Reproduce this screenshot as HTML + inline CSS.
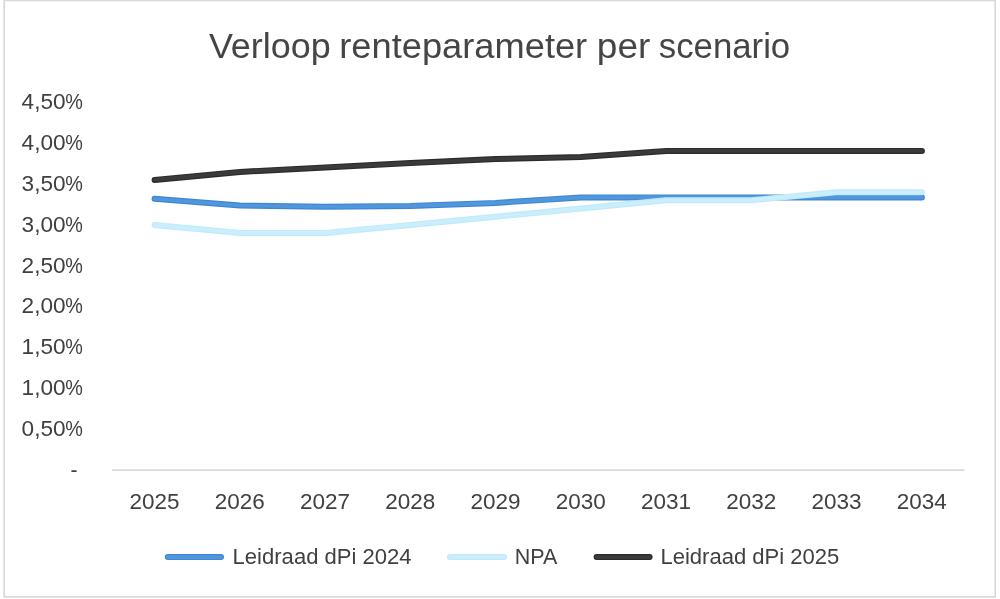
<!DOCTYPE html>
<html lang="nl">
<head>
<meta charset="utf-8">
<title>Verloop renteparameter per scenario</title>
<style>
html,body{margin:0;padding:0;background:#fff;}
body{width:1000px;height:599px;overflow:hidden;position:relative;font-family:"Liberation Sans",sans-serif;}
svg{display:block;position:absolute;left:0;top:0;}
text{font-family:"Liberation Sans",sans-serif;fill:#404040;}
.ax{font-size:22.6px;}
.ttl{font-size:34.8px;fill:#454545;}
.ln{fill:none;stroke-width:6;stroke-linecap:round;stroke-linejoin:round;}
.li{fill:none;stroke-width:3.6;stroke-linecap:round;stroke-linejoin:round;}
</style>
</head>
<body>
<svg width="1000" height="599" viewBox="0 0 1000 599">
<rect x="0" y="0" width="1000" height="599" fill="#ffffff"/>
<rect x="4.2" y="0.4" width="991" height="596.5" fill="#ffffff" stroke="#d9d9d9" stroke-width="1.7" stroke-linejoin="round"/>
<text class="ttl" y="57.5"><tspan x="208.9" textLength="121.8" lengthAdjust="spacingAndGlyphs">Verloop</tspan> <tspan x="339.3" textLength="247.9" lengthAdjust="spacingAndGlyphs">renteparameter</tspan> <tspan x="596.8" textLength="53.5" lengthAdjust="spacingAndGlyphs">per</tspan> <tspan x="658.8" textLength="131.4" lengthAdjust="spacingAndGlyphs">scenario</tspan></text>
<text class="ax" x="21.6" y="109.0"><tspan textLength="44" lengthAdjust="spacingAndGlyphs">4,50</tspan><tspan x="65.2" textLength="17.6" lengthAdjust="spacingAndGlyphs">%</tspan></text>
<text class="ax" x="21.6" y="149.9"><tspan textLength="44" lengthAdjust="spacingAndGlyphs">4,00</tspan><tspan x="65.2" textLength="17.6" lengthAdjust="spacingAndGlyphs">%</tspan></text>
<text class="ax" x="21.6" y="190.8"><tspan textLength="44" lengthAdjust="spacingAndGlyphs">3,50</tspan><tspan x="65.2" textLength="17.6" lengthAdjust="spacingAndGlyphs">%</tspan></text>
<text class="ax" x="21.6" y="231.6"><tspan textLength="44" lengthAdjust="spacingAndGlyphs">3,00</tspan><tspan x="65.2" textLength="17.6" lengthAdjust="spacingAndGlyphs">%</tspan></text>
<text class="ax" x="21.6" y="272.5"><tspan textLength="44" lengthAdjust="spacingAndGlyphs">2,50</tspan><tspan x="65.2" textLength="17.6" lengthAdjust="spacingAndGlyphs">%</tspan></text>
<text class="ax" x="21.6" y="313.4"><tspan textLength="44" lengthAdjust="spacingAndGlyphs">2,00</tspan><tspan x="65.2" textLength="17.6" lengthAdjust="spacingAndGlyphs">%</tspan></text>
<text class="ax" x="21.6" y="354.2"><tspan textLength="44" lengthAdjust="spacingAndGlyphs">1,50</tspan><tspan x="65.2" textLength="17.6" lengthAdjust="spacingAndGlyphs">%</tspan></text>
<text class="ax" x="21.6" y="395.1"><tspan textLength="44" lengthAdjust="spacingAndGlyphs">1,00</tspan><tspan x="65.2" textLength="17.6" lengthAdjust="spacingAndGlyphs">%</tspan></text>
<text class="ax" x="21.6" y="436.0"><tspan textLength="44" lengthAdjust="spacingAndGlyphs">0,50</tspan><tspan x="65.2" textLength="17.6" lengthAdjust="spacingAndGlyphs">%</tspan></text>
<text class="ax" x="70.4" y="477.2" textLength="7" lengthAdjust="spacingAndGlyphs">-</text>
<line x1="112.0" y1="470.1" x2="964.5" y2="470.1" stroke="#d9d9d9" stroke-width="1.6"/>
<text class="ax" x="129.4" y="509.3" textLength="50" lengthAdjust="spacingAndGlyphs">2025</text>
<text class="ax" x="214.7" y="509.3" textLength="50" lengthAdjust="spacingAndGlyphs">2026</text>
<text class="ax" x="299.9" y="509.3" textLength="50" lengthAdjust="spacingAndGlyphs">2027</text>
<text class="ax" x="385.2" y="509.3" textLength="50" lengthAdjust="spacingAndGlyphs">2028</text>
<text class="ax" x="470.4" y="509.3" textLength="50" lengthAdjust="spacingAndGlyphs">2029</text>
<text class="ax" x="555.7" y="509.3" textLength="50" lengthAdjust="spacingAndGlyphs">2030</text>
<text class="ax" x="640.9" y="509.3" textLength="50" lengthAdjust="spacingAndGlyphs">2031</text>
<text class="ax" x="726.2" y="509.3" textLength="50" lengthAdjust="spacingAndGlyphs">2032</text>
<text class="ax" x="811.4" y="509.3" textLength="50" lengthAdjust="spacingAndGlyphs">2033</text>
<text class="ax" x="896.7" y="509.3" textLength="50" lengthAdjust="spacingAndGlyphs">2034</text>
<polyline class="ln" stroke="#3f86d5" points="154.6,198.7 239.9,205.5 325.1,206.7 410.4,205.9 495.6,202.9 580.9,197.4 666.1,197.4 751.4,197.4 836.6,197.4 921.9,197.4"/>
<polyline class="li" stroke="#5197db" points="154.6,198.7 239.9,205.5 325.1,206.7 410.4,205.9 495.6,202.9 580.9,197.4 666.1,197.4 751.4,197.4 836.6,197.4 921.9,197.4"/>
<polyline class="ln" stroke="#c1e9fa" points="154.6,224.9 239.9,232.9 325.1,232.9 410.4,224.9 495.6,216.7 580.9,208.5 666.1,200.3 751.4,200.3 836.6,192.2 921.9,192.2"/>
<polyline class="li" stroke="#cbeefc" points="154.6,224.9 239.9,232.9 325.1,232.9 410.4,224.9 495.6,216.7 580.9,208.5 666.1,200.3 751.4,200.3 836.6,192.2 921.9,192.2"/>
<polyline class="ln" stroke="#2b2b2b" points="154.6,179.9 239.9,171.9 325.1,167.4 410.4,163.1 495.6,159.0 580.9,157.0 666.1,150.9 751.4,150.9 836.6,150.9 921.9,150.9"/>
<polyline class="li" stroke="#3b3b3b" points="154.6,179.9 239.9,171.9 325.1,167.4 410.4,163.1 495.6,159.0 580.9,157.0 666.1,150.9 751.4,150.9 836.6,150.9 921.9,150.9"/>
<line class="ln" stroke="#3f86d5" x1="167.8" y1="557.1" x2="221" y2="557.1"/>
<line class="li" stroke="#5197db" x1="167.8" y1="557.1" x2="221" y2="557.1"/>
<text class="ax" x="232.6" y="564.4" textLength="179" lengthAdjust="spacingAndGlyphs">Leidraad dPi 2024</text>
<line class="ln" stroke="#c1e9fa" x1="450" y1="557.1" x2="504" y2="557.1"/>
<line class="li" stroke="#cbeefc" x1="450" y1="557.1" x2="504" y2="557.1"/>
<text class="ax" x="514.8" y="564.4" textLength="42.6" lengthAdjust="spacingAndGlyphs">NPA</text>
<line class="ln" stroke="#2b2b2b" x1="596.6" y1="557.1" x2="649.6" y2="557.1"/>
<line class="li" stroke="#3b3b3b" x1="596.6" y1="557.1" x2="649.6" y2="557.1"/>
<text class="ax" x="660.4" y="564.4" textLength="179" lengthAdjust="spacingAndGlyphs">Leidraad dPi 2025</text>
</svg>
</body>
</html>
